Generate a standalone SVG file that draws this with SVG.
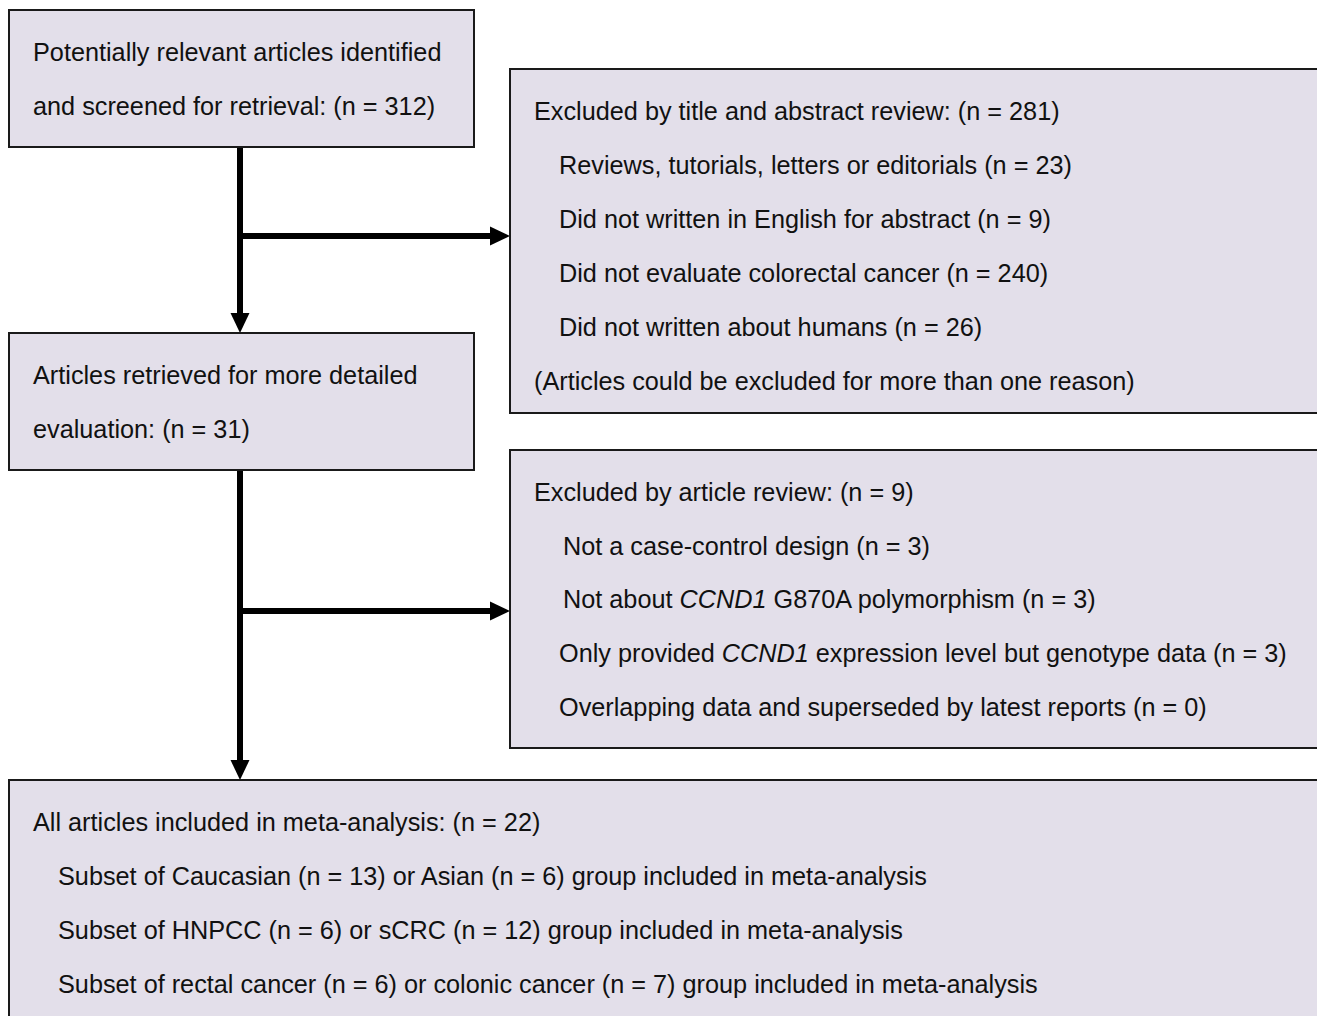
<svg xmlns="http://www.w3.org/2000/svg" width="1317" height="1016" viewBox="0 0 1317 1016">
<style>
.box{fill:#e3dfea;stroke:#1a1a1a;stroke-width:2}
text{font-family:"Liberation Sans",Arial,sans-serif;font-size:25.25px;fill:#111}
.con{stroke:#000;stroke-width:6;fill:none}
.head{fill:#000}
</style>
<rect width="1317" height="1016" fill="#fff"/>
<g id="connectors">
<line class="con" x1="240" y1="147" x2="240" y2="314"/>
<polygon class="head" points="230.5,313 249.5,313 240,333"/>
<line class="con" x1="240" y1="236" x2="492" y2="236"/>
<polygon class="head" points="490,226.5 490,245.5 510,236"/>
<line class="con" x1="240" y1="470" x2="240" y2="761"/>
<polygon class="head" points="230.5,760 249.5,760 240,780"/>
<line class="con" x1="240" y1="611" x2="492" y2="611"/>
<polygon class="head" points="490,601.5 490,620.5 510,611"/>
</g>
<g id="node1">
<rect class="box" x="9" y="10" width="465" height="137"/>
<text x="33" y="61">Potentially relevant articles identified</text>
<text x="33" y="115">and screened for retrieval: (n = 312)</text>
</g>
<g id="node2">
<rect class="box" x="510" y="69" width="820" height="344"/>
<text x="534" y="120">Excluded by title and abstract review: (n = 281)</text>
<text x="559" y="174">Reviews, tutorials, letters or editorials (n = 23)</text>
<text x="559" y="228">Did not written in English for abstract (n = 9)</text>
<text x="559" y="282">Did not evaluate colorectal cancer (n = 240)</text>
<text x="559" y="336">Did not written about humans (n = 26)</text>
<text x="534" y="390">(Articles could be excluded for more than one reason)</text>
</g>
<g id="node3">
<rect class="box" x="9" y="333" width="465" height="137"/>
<text x="33" y="384">Articles retrieved for more detailed</text>
<text x="33" y="438">evaluation: (n = 31)</text>
</g>
<g id="node4">
<rect class="box" x="510" y="450" width="820" height="298"/>
<text x="534" y="501">Excluded by article review: (n = 9)</text>
<text x="563" y="555">Not a case-control design (n = 3)</text>
<text x="563" y="608">Not about <tspan font-style="italic">CCND1</tspan> G870A polymorphism (n = 3)</text>
<text x="559" y="662">Only provided <tspan font-style="italic">CCND1</tspan> expression level but genotype data (n = 3)</text>
<text x="559" y="716">Overlapping data and superseded by latest reports (n = 0)</text>
</g>
<g id="node5">
<rect class="box" x="9" y="780" width="1330" height="260"/>
<text x="33" y="831">All articles included in meta-analysis: (n = 22)</text>
<text x="58" y="885">Subset of Caucasian (n = 13) or Asian (n = 6) group included in meta-analysis</text>
<text x="58" y="939">Subset of HNPCC (n = 6) or sCRC (n = 12) group included in meta-analysis</text>
<text x="58" y="993">Subset of rectal cancer (n = 6) or colonic cancer (n = 7) group included in meta-analysis</text>
</g>
</svg>
